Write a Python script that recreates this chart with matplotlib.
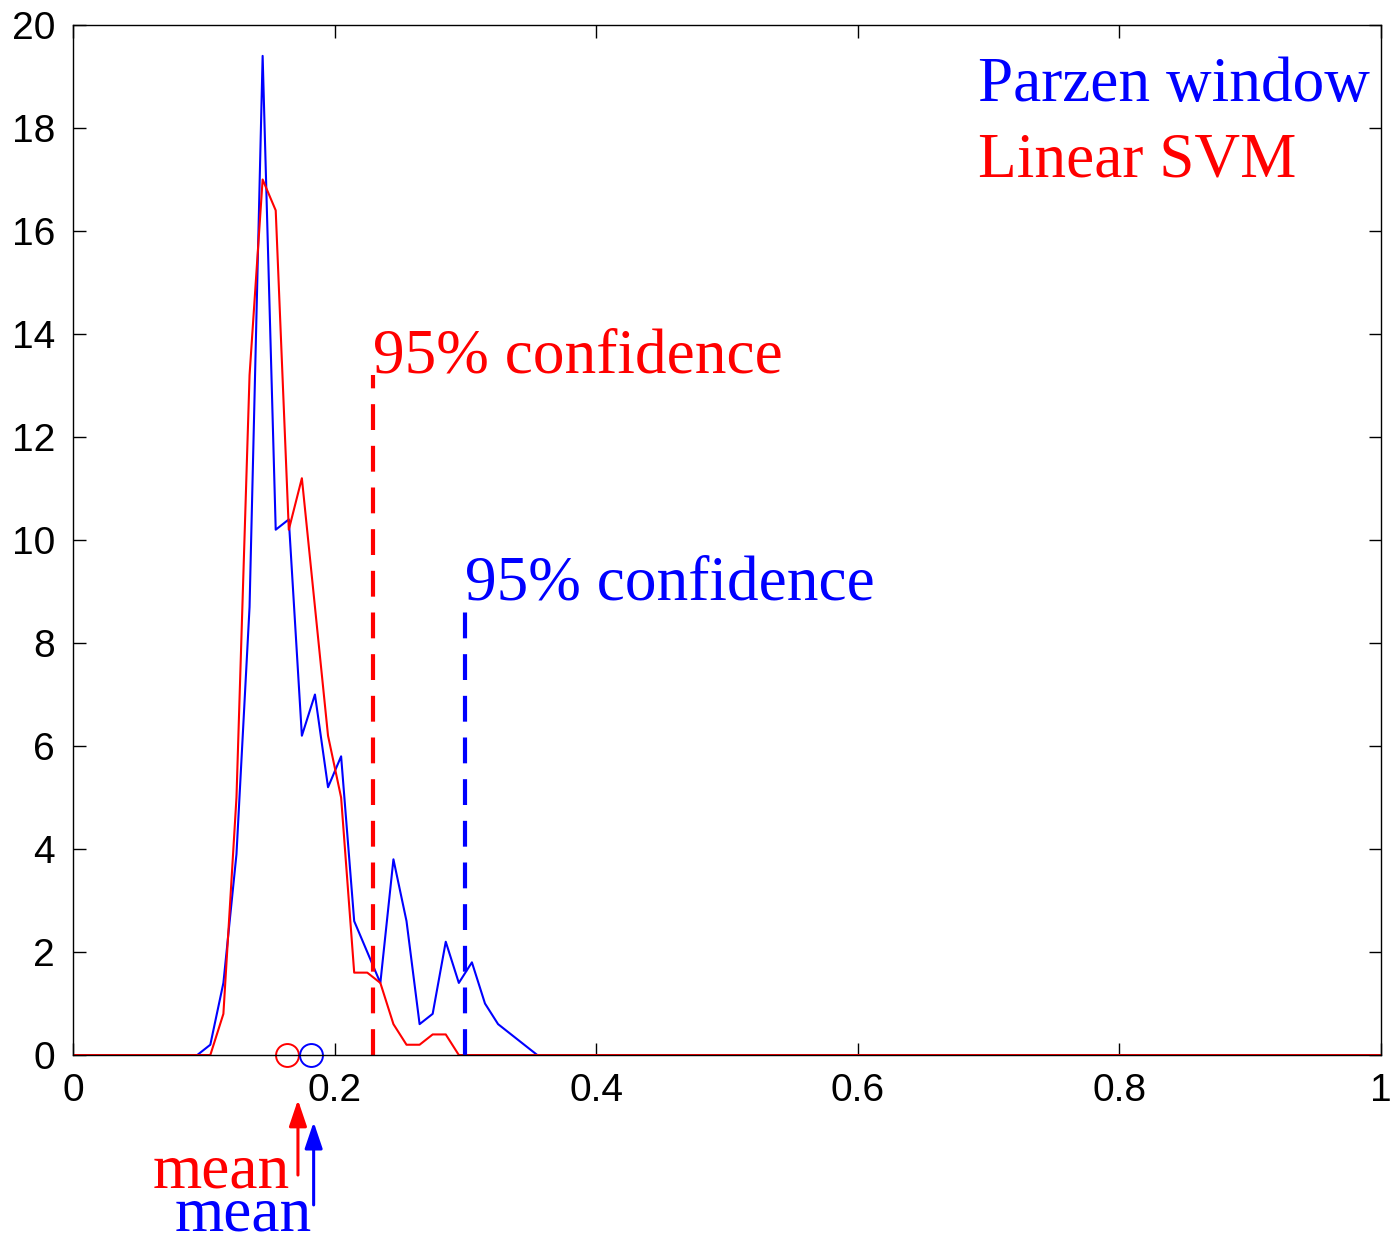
import matplotlib.pyplot as plt

# bin centres of the error histograms (everything outside is zero up to x = 1)
x_parzen = [0, 0.095, 0.105, 0.115, 0.125, 0.135, 0.145, 0.155, 0.165, 0.175,
            0.185, 0.195, 0.205, 0.215, 0.225, 0.235, 0.245, 0.255, 0.265,
            0.275, 0.285, 0.295, 0.305, 0.315, 0.325, 0.335, 0.345, 0.355, 1]
y_parzen = [0, 0, 0.2, 1.4, 3.9, 8.7, 19.4, 10.2, 10.4, 6.2,
            7.0, 5.2, 5.8, 2.6, 2.0, 1.4, 3.8, 2.6, 0.6,
            0.8, 2.2, 1.4, 1.8, 1.0, 0.6, 0.4, 0.2, 0, 0]

x_svm = [0, 0.105, 0.115, 0.125, 0.135, 0.145, 0.155, 0.165, 0.175, 0.185,
         0.195, 0.205, 0.215, 0.225, 0.235, 0.245, 0.255, 0.265, 0.275,
         0.285, 0.295, 1]
y_svm = [0, 0, 0.8, 5.0, 13.2, 17.0, 16.4, 10.2, 11.2, 8.7,
         6.2, 5.0, 1.6, 1.6, 1.4, 0.6, 0.2, 0.2, 0.4,
         0.4, 0, 0]

# means and 95% confidence limits
mean_svm = 0.1636
mean_parzen = 0.182
conf_svm, conf_svm_top = 0.229, 13.2
conf_parzen, conf_parzen_top = 0.300, 8.8

serif = "Liberation Serif"
fs = 45.5

fig = plt.figure(figsize=(13.9, 12.37), dpi=100)
ax = fig.add_axes([0.0525, 0.1471, 0.941, 0.8327])

ax.plot(x_parzen, y_parzen, color="blue", lw=1.5)
ax.plot(x_svm, y_svm, color="red", lw=1.5)

ax.plot([conf_svm, conf_svm], [0, conf_svm_top], color="red", lw=3,
        dashes=(6.2, 3.8))
ax.plot([conf_parzen, conf_parzen], [0, conf_parzen_top], color="blue", lw=3,
        dashes=(6.2, 3.8))

ax.plot([mean_svm], [0], "o", mfc="none", mec="red", ms=16.5, mew=1.4, clip_on=False)
ax.plot([mean_parzen], [0], "o", mfc="none", mec="blue", ms=16.5, mew=1.4, clip_on=False)

ax.text(conf_svm, conf_svm_top + 0.05, "95% confidence", color="red",
        fontsize=fs, family=serif, ha="left", va="baseline")
ax.text(conf_parzen, conf_parzen_top + 0.05, "95% confidence", color="blue",
        fontsize=fs, family=serif, ha="left", va="baseline")

ax.text(0.692, 18.52, "Parzen window", color="blue", fontsize=fs, family=serif,
        va="baseline")
ax.text(0.692, 17.05, "Linear SVM", color="red", fontsize=fs, family=serif,
        va="baseline")

# mean arrows below the axis
head = "-|>,head_length=0.8,head_width=0.27"
ax.annotate("", xy=(0.172, -0.87), xytext=(0.172, -2.33), annotation_clip=False,
            arrowprops=dict(arrowstyle=head, color="red", lw=2.2,
                            mutation_scale=20, shrinkA=0, shrinkB=0))
ax.annotate("", xy=(0.184, -1.30), xytext=(0.184, -2.91), annotation_clip=False,
            arrowprops=dict(arrowstyle=head, color="blue", lw=2.2,
                            mutation_scale=20, shrinkA=0, shrinkB=0))
ax.text(0.166, -2.58, "mean", color="red", fontsize=fs, family=serif,
        ha="right", va="baseline", clip_on=False)
ax.text(0.1827, -3.4, "mean", color="blue", fontsize=fs, family=serif,
        ha="right", va="baseline", clip_on=False)

ax.set_xlim(0, 1)
ax.set_ylim(0, 20)
ax.set_xticks([0, 0.2, 0.4, 0.6, 0.8, 1])
ax.set_xticklabels(["0", "0.2", "0.4", "0.6", "0.8", "1"])
ax.set_yticks(range(0, 21, 2))
ax.tick_params(direction="in", length=9, width=1, labelsize=28, top=True,
               right=True)
ax.tick_params(axis="x", pad=13)
ax.tick_params(axis="y", pad=13)
for lab in ax.get_xticklabels() + ax.get_yticklabels():
    lab.set_family("Liberation Sans")
for sp in ax.spines.values():
    sp.set_linewidth(1.0)

fig.savefig("out.png", dpi=100)
